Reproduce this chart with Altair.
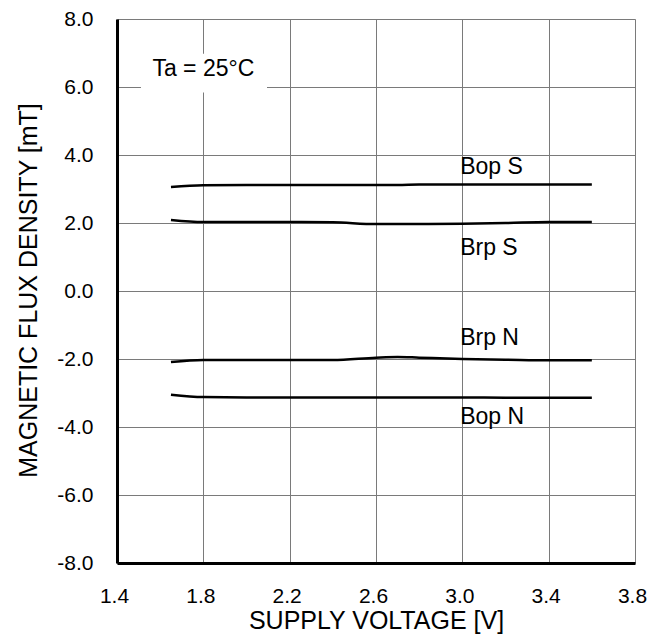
import altair as alt
import pandas as pd

# ---- data ----
voltage = [1.65, 1.8, 2.0, 2.2, 2.4, 2.6, 2.7, 2.8, 3.0, 3.2, 3.4, 3.6]
bop_s = [3.06, 3.11, 3.12, 3.12, 3.12, 3.12, 3.12, 3.13, 3.13, 3.13, 3.13, 3.13]
brp_s = [2.09, 2.03, 2.03, 2.03, 2.02, 1.97, 1.97, 1.97, 1.98, 2.0, 2.03, 2.03]
brp_n = [-2.09, -2.03, -2.03, -2.03, -2.03, -1.96, -1.94, -1.96, -2.0, -2.02, -2.04, -2.04]
bop_n = [-3.05, -3.12, -3.13, -3.13, -3.13, -3.13, -3.13, -3.13, -3.13, -3.14, -3.14, -3.14]

series_names = ["Bop S", "Brp S", "Brp N", "Bop N"]
label_x = [2.99, 2.99, 2.99, 2.99]
label_y = [3.65, 1.26, -1.39, -3.70]

x_ticks = [1.4, 1.8, 2.2, 2.6, 3.0, 3.4, 3.8]
y_ticks = [-8, -6, -4, -2, 0, 2, 4, 6, 8]

note_text = "Ta = 25°C"
note_x, note_y = 1.80, 6.54
box_x1, box_x2, box_y1, box_y2 = 1.511, 2.095, 5.84, 6.98

# ---- build tables ----
rows = []
for name, vals in zip(series_names, [bop_s, brp_s, brp_n, bop_n]):
    for v, b in zip(voltage, vals):
        rows.append({"series": name, "V": v, "B": b})
curves = pd.DataFrame(rows)
labels = pd.DataFrame({"name": series_names, "x": label_x, "y": label_y})
note = pd.DataFrame([{"text": note_text, "tx": note_x, "ty": note_y,
                      "bx1": box_x1, "bx2": box_x2, "by1": box_y1, "by2": box_y2}])

FONT = "Liberation Sans, Arial, sans-serif"
LABEL_EXPR = "replace(format(datum.value, '.1f'), '\u2212', '-')"

xscale = alt.Scale(domain=[1.4, 3.8], nice=False, zero=False)
yscale = alt.Scale(domain=[-8, 8], nice=False, zero=False)

xaxis = alt.Axis(values=x_ticks, labelExpr=LABEL_EXPR, title="SUPPLY VOLTAGE [V]",
                 ticks=False, domain=True, domainColor="black", domainWidth=3,
                 grid=True, gridColor="#7a7a7a", gridWidth=1,
                 labelFont=FONT, labelFontSize=21, labelColor="black",
                 labelPadding=22, labelFlush=False, labelOffset=-3,
                 titleFont=FONT, titleFontSize=25, titleFontWeight="normal",
                 titleColor="black", titleY=57, titleBaseline="middle")
yaxis = alt.Axis(values=y_ticks, labelExpr=LABEL_EXPR, title="MAGNETIC FLUX DENSITY [mT]",
                 ticks=False, domain=True, domainColor="black", domainWidth=3,
                 grid=True, gridColor="#7a7a7a", gridWidth=1,
                 labelFont=FONT, labelFontSize=21, labelColor="black",
                 labelPadding=24, labelFlush=False,
                 titleFont=FONT, titleFontSize=25, titleFontWeight="normal",
                 titleColor="black", titleX=-89, titleY=271,
                 titleBaseline="middle", titleAngle=-90)

box = alt.Chart(note).mark_rect(color="white").encode(
    x=alt.X("bx1:Q", scale=xscale, axis=xaxis),
    x2="bx2:Q",
    y=alt.Y("by1:Q", scale=yscale, axis=yaxis),
    y2="by2:Q",
)

lines = alt.Chart(curves).mark_line(color="black", strokeWidth=2.5, interpolate="monotone").encode(
    x=alt.X("V:Q", scale=xscale),
    y=alt.Y("B:Q", scale=yscale),
    detail="series:N",
)

texts = alt.Chart(labels).mark_text(align="left", baseline="middle", font=FONT,
                                    fontSize=23, color="black").encode(
    x=alt.X("x:Q", scale=xscale),
    y=alt.Y("y:Q", scale=yscale),
    text="name:N",
)

note_txt = alt.Chart(note).mark_text(align="center", baseline="middle", font=FONT,
                                     fontSize=23, color="black").encode(
    x=alt.X("tx:Q", scale=xscale),
    y=alt.Y("ty:Q", scale=yscale),
    text="text:N",
)

chart = alt.layer(box, lines, texts, note_txt).properties(
    width=518, height=544,
    autosize=alt.AutoSizeParams(type="none"),
    padding={"left": 109, "top": 11, "right": 24, "bottom": 74},
).configure_view(stroke="black", strokeWidth=2).configure(background="white")

chart.save("out.html", embed_options={"renderer": "svg", "actions": False})
